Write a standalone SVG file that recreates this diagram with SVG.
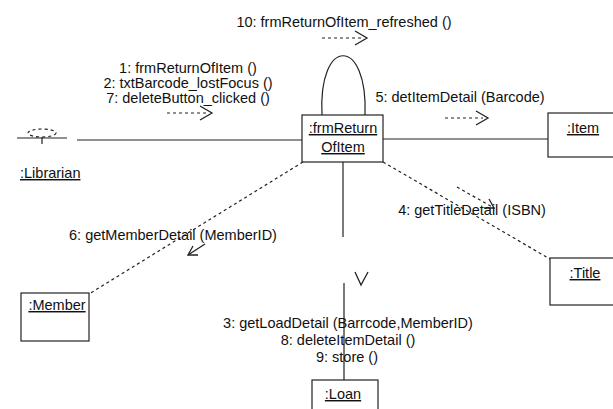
<svg xmlns="http://www.w3.org/2000/svg" width="613" height="409" viewBox="0 0 613 409">
<style>
text{font-family:"Liberation Sans",Arial,sans-serif;font-size:14.5px;fill:#111}
.m{text-anchor:middle}
.u{text-decoration:underline}
.box{fill:#fff;stroke:#222;stroke-width:1.2}
.ln{fill:none;stroke:#222;stroke-width:1.2}
.ds{fill:none;stroke:#222;stroke-width:1.2;stroke-dasharray:3 3}
.ar{fill:none;stroke:#222;stroke-width:1.3}
</style>
<rect width="613" height="409" fill="#fff"/>
<g id="connectors">
<line class="ln" x1="77" y1="140" x2="302" y2="140"/>
<line class="ln" x1="383" y1="139" x2="548" y2="139"/>
<path class="ln" d="M322,115 C318,36 368,36 365,115"/>
<line class="ds" x1="383" y1="162" x2="550" y2="259"/>
<line class="ds" x1="303" y1="162" x2="89" y2="294"/>
<line class="ln" x1="343" y1="162" x2="343" y2="237"/>
<line class="ln" x1="344" y1="283" x2="344" y2="380"/>
<polyline class="ar" points="355,272 361,285 368,272"/>
<line class="ds" x1="322" y1="38" x2="362" y2="38"/>
<polyline class="ar" points="355,31 367,38 355,45"/>
<line class="ds" x1="167" y1="113" x2="207" y2="113"/>
<polyline class="ar" points="200,106 212,113 200,120"/>
<line class="ds" x1="445" y1="118" x2="483" y2="118"/>
<polyline class="ar" points="476,111 488,118 476,125"/>
<line class="ds" x1="457" y1="187" x2="494" y2="208"/>
<polyline class="ar" points="489,199 494,208 484,208"/>
<line class="ar" x1="205" y1="244" x2="188" y2="255"/>
<polyline class="ar" points="193,246 188,255 198,255"/>
<text class="m" x="344" y="27">10: frmReturnOfItem_refreshed ()</text>
<text class="m" x="188" y="73">1: frmReturnOfItem ()</text>
<text class="m" x="188" y="88">2: txtBarcode_lostFocus ()</text>
<text class="m" x="188" y="103">7: deleteButton_clicked ()</text>
<text class="m" x="460" y="102">5: detItemDetail (Barcode)</text>
<text class="m" x="472" y="215">4: getTitleDetail (ISBN)</text>
<text class="m" x="173" y="240">6: getMemberDetail (MemberID)</text>
<text class="m" x="348" y="328">3: getLoadDetail (Barrcode,MemberID)</text>
<text class="m" x="348" y="345">8: deleteItemDetail ()</text>
<text class="m" x="347" y="362">9: store ()</text>
</g>
<g id="librarian">
<ellipse class="ds" cx="42" cy="133" rx="14" ry="4"/>
<line class="ln" x1="17" y1="138" x2="67" y2="138"/>
<line class="ln" x1="42" y1="137" x2="42" y2="144"/>
<text class="u" x="20" y="178">:Librarian</text>
</g>
<g id="frmReturnOfItem">
<rect class="box" x="302" y="115" width="81" height="47"/>
<text class="m u" x="343" y="133">:frmReturn</text>
<text class="m u" x="343" y="152">OfItem</text>
</g>
<g id="item">
<rect class="box" x="548" y="113" width="80" height="44"/>
<text class="m u" x="583" y="133">:Item</text>
</g>
<g id="title">
<rect class="box" x="550" y="258" width="80" height="47"/>
<text class="m u" x="585" y="278">:Title</text>
</g>
<g id="member">
<rect class="box" x="21" y="293" width="68" height="48"/>
<text class="m u" x="57" y="310">:Member</text>
</g>
<g id="loan">
<rect class="box" x="312" y="380" width="66" height="45"/>
<text class="m u" x="343" y="399">:Loan</text>
</g>
</svg>
